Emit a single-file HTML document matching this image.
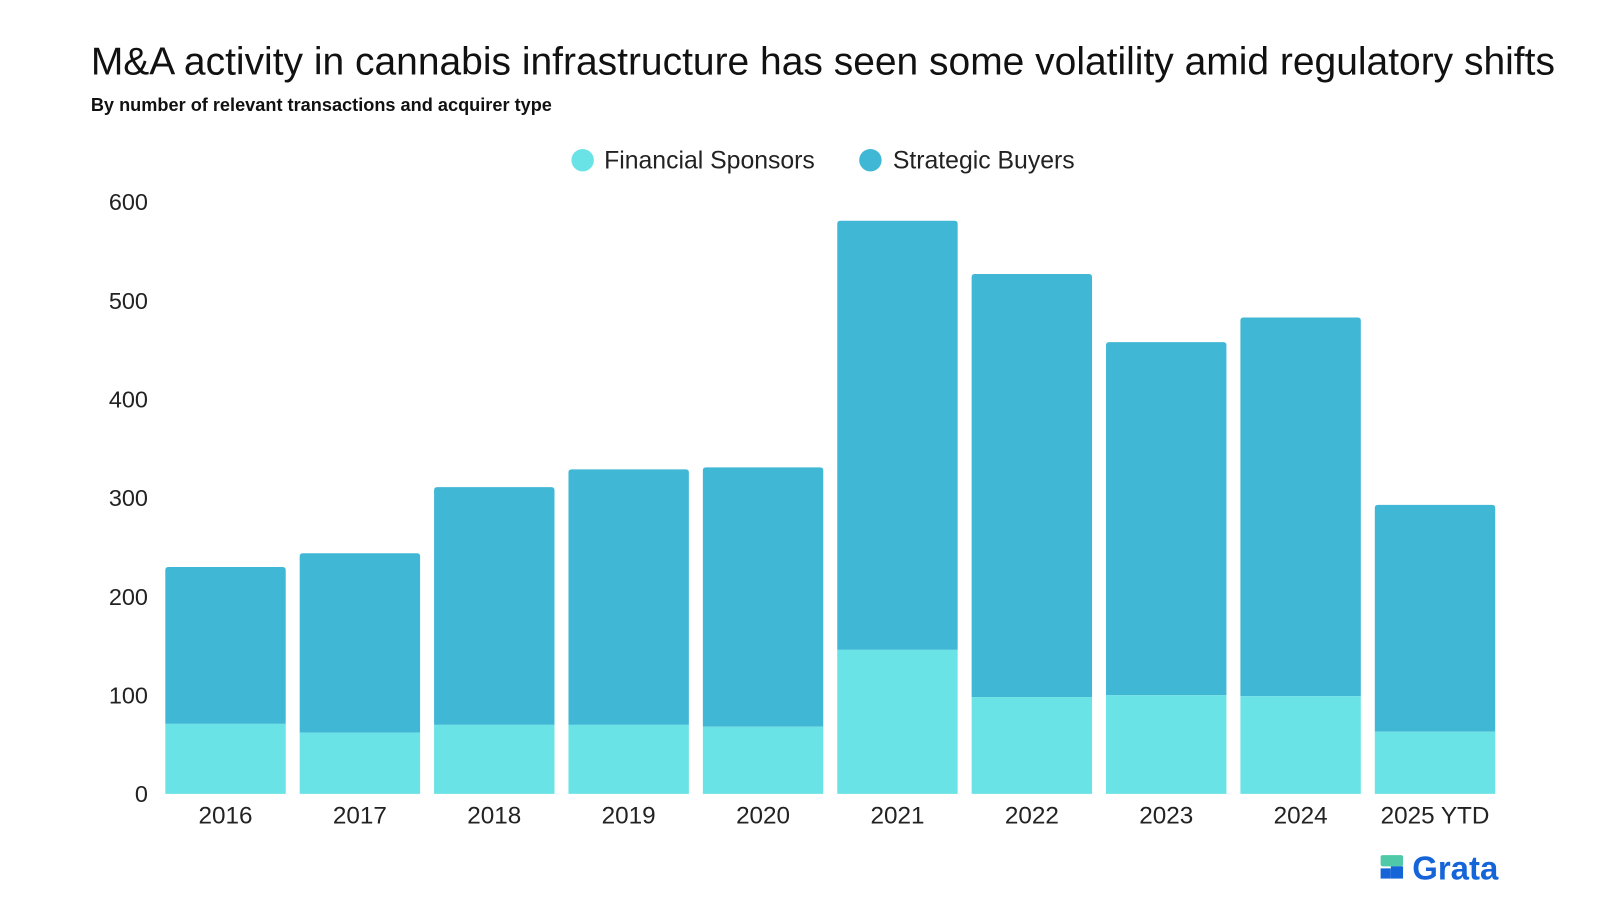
<!DOCTYPE html>
<html><head><meta charset="utf-8"><style>
body{margin:0;background:#fff;width:1600px;height:900px;overflow:hidden;font-family:"Liberation Sans",sans-serif}
</style></head><body>
<svg width="1600" height="900" viewBox="0 0 1568 882">
<text x="89" y="73" font-size="38.2" fill="#111">M&amp;A activity in cannabis infrastructure has seen some volatility amid regulatory shifts</text>
<text x="89" y="109" font-size="17.8" font-weight="bold" fill="#111">By number of relevant transactions and acquirer type</text>
<g>
<circle cx="571" cy="157" r="11" fill="#6ae3e6"/>
<text x="592" y="165" font-size="24.3" fill="#222">Financial Sponsors</text>
<circle cx="853" cy="157" r="11" fill="#41b7d6"/>
<text x="875" y="165" font-size="24.3" fill="#222">Strategic Buyers</text>
</g>
<g id="yaxis"></g><g id="bars"></g><g id="xaxis"></g>
<g>
<rect x="1353" y="838" width="22" height="11" rx="2" fill="#4fc9a8"/>
<rect x="1363" y="849" width="12" height="12" fill="#1565d8"/>
<rect x="1353" y="851" width="10" height="10" fill="#1565d8"/>
<text x="1384" y="862" font-size="32.3" font-weight="bold" fill="#1565d8">Grata</text>
</g>
</svg>
<script>
const categories=["2016","2017","2018","2019","2020","2021","2022","2023","2024","2025 YTD"];
const financial=[71,62,70,70,68,146,98,100,99,63];
const strategic=[159,182,241,259,263,435,429,358,384,230];
const yTicks=[0,100,200,300,400,500,600];
const NS="http://www.w3.org/2000/svg";
const y0=778,pxPer=580/600;
const y=v=>y0-v*pxPer;
const x=i=>162+i*131.7;
const bw=118;
function mk(t,a,p){const e=document.createElementNS(NS,t);for(const k in a)e.setAttribute(k,a[k]);p.appendChild(e);return e;}
const ya=document.getElementById('yaxis'),bg=document.getElementById('bars'),xa=document.getElementById('xaxis');
yTicks.forEach(t=>{const e=mk('text',{x:145,y:y(t)+8,'font-size':23,'text-anchor':'end',fill:'#222'},ya);e.textContent=t;

});
categories.forEach((c,i)=>{
const tot=financial[i]+strategic[i];
const s=mk('path',{d:`M${x(i)},${y(financial[i])} V${y(tot)+3} Q${x(i)},${y(tot)} ${x(i)+3},${y(tot)} H${x(i)+bw-3} Q${x(i)+bw},${y(tot)} ${x(i)+bw},${y(tot)+3} V${y(financial[i])} Z`,fill:'#41b7d6'},bg);


const f=mk('rect',{x:x(i),y:y(financial[i]),width:bw,height:y0-y(financial[i]),fill:'#6ae3e6'},bg);


const l=mk('text',{x:x(i)+bw/2,y:807,'font-size':23.8,'text-anchor':'middle',fill:'#222'},xa);l.textContent=c;


});
</script>
</body></html>
